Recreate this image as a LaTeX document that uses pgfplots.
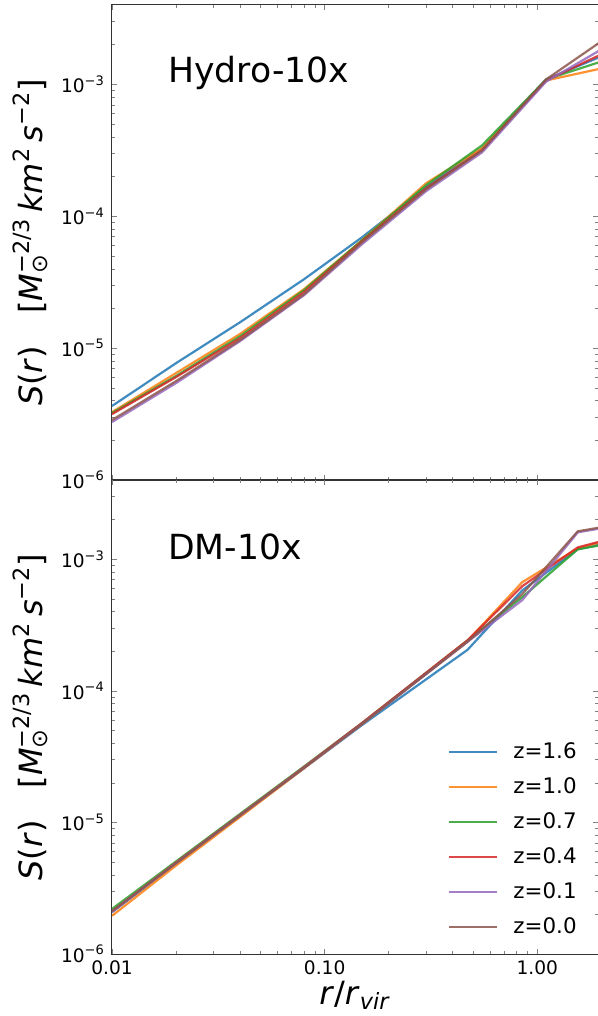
\documentclass[border=0pt]{standalone}
\usepackage{fontspec}
\setmainfont{DejaVu Sans}
\usepackage{pgfplots}
\pgfplotsset{compat=1.18}

\definecolor{c0}{HTML}{1F77B4}
\definecolor{c1}{HTML}{FF7F0E}
\definecolor{c2}{HTML}{2CA02C}
\definecolor{c3}{HTML}{D62728}
\definecolor{c4}{HTML}{9467BD}
\definecolor{c5}{HTML}{8C564B}

\newcommand{\supsub}[2]{\rlap{\textsubscript{#2}}\textsuperscript{#1}}
\newcommand{\slabel}{\textit{S}(\textit{r})\quad[\textit{M}\supsub{−2/3}{⊙}\,\textit{km}\textsuperscript{2}\,\textit{s}\textsuperscript{−2}]}

\pgfplotsset{
  every axis/.append style={
    scale only axis,
    width=243pt,
    xmin=0.01, xmax=1.93,
    ymin=1e-6, ymax=4e-3,
    axis line style={black!80, line width=0.5pt},
    tick align=inside,
    xtick pos=both, ytick pos=both,
    major tick length=2.6pt,
    minor tick length=1.4pt,
    xtick={0.01,0.1,1},
    minor xtick={0.02,0.03,0.04,0.05,0.06,0.07,0.08,0.09,0.2,0.3,0.4,0.5,0.6,0.7,0.8,0.9},
    ytick={1e-6,1e-5,1e-4,1e-3},
    yticklabels={10\textsuperscript{−6},10\textsuperscript{−5},10\textsuperscript{−4},10\textsuperscript{−3}},
    minor ytick={2e-6,3e-6,4e-6,5e-6,6e-6,7e-6,8e-6,9e-6,
                 2e-5,3e-5,4e-5,5e-5,6e-5,7e-5,8e-5,9e-5,
                 2e-4,3e-4,4e-4,5e-4,6e-4,7e-4,8e-4,9e-4,
                 2e-3,3e-3},
    tick label style={font=\fontsize{9.3}{11}\selectfont},
    ylabel style={font=\fontsize{16}{19}\selectfont, at={(axis description cs:-0.168,0.5)}, anchor=center},
  },
  every axis plot/.append style={line width=1.1pt, opacity=0.85},
}

\begin{document}
\begin{tikzpicture}
% upper panel
\begin{loglogaxis}[height=237.5pt, at={(0pt,237pt)}, anchor=south west,
    xticklabels={}, ylabel={\slabel}]
\addplot[c0] coordinates {(0.01,3.64e-6) (0.02,7.69e-6) (0.04,1.57e-5) (0.08,3.33e-5) (0.15,6.93e-5) (0.3,1.66e-4) (0.55,3.27e-4) (1.1,1.09e-3) (2.0,1.63e-3)};
\addplot[c1] coordinates {(0.01,3.27e-6) (0.02,6.47e-6) (0.04,1.28e-5) (0.08,2.80e-5) (0.15,6.58e-5) (0.3,1.78e-4) (0.55,3.27e-4) (1.1,1.07e-3) (2.0,1.32e-3)};
\addplot[c2] coordinates {(0.01,3.22e-6) (0.02,6.14e-6) (0.04,1.23e-5) (0.08,2.75e-5) (0.15,6.58e-5) (0.3,1.72e-4) (0.55,3.45e-4) (1.1,1.09e-3) (2.0,1.49e-3)};
\addplot[c3] coordinates {(0.01,3.16e-6) (0.02,6.03e-6) (0.04,1.19e-5) (0.08,2.66e-5) (0.15,6.47e-5) (0.3,1.63e-4) (0.55,3.16e-4) (1.1,1.07e-3) (2.0,1.69e-3)};
\addplot[c4] coordinates {(0.01,2.75e-6) (0.02,5.43e-6) (0.04,1.13e-5) (0.08,2.52e-5) (0.15,6.14e-5) (0.3,1.55e-4) (0.55,3.05e-4) (1.1,1.05e-3) (2.0,1.84e-3)};
\addplot[c5] coordinates {(0.01,2.85e-6) (0.02,5.62e-6) (0.04,1.15e-5) (0.08,2.56e-5) (0.15,6.35e-5) (0.3,1.60e-4) (0.55,3.16e-4) (1.1,1.09e-3) (2.0,2.12e-3)};
\node[anchor=base west, font=\fontsize{17.3}{20}\selectfont, inner sep=0pt] at (axis description cs:0.115,0.836) {Hydro-10x};
\end{loglogaxis}
% lower panel
\begin{loglogaxis}[height=237pt, at={(0pt,0pt)}, anchor=south west,
    ylabel={\slabel},
    xticklabels={0.01,0.10,1.00},
    xlabel={\textit{r}/\textit{r}\textsubscript{\textit{vir}}},
    xlabel style={font=\fontsize{16}{19}\selectfont, at={(axis description cs:0.5,0)}, anchor=center, yshift=-20.5pt},
    legend cell align=left,
    legend image code/.code={\draw[#1] (0pt,0pt) -- (24pt,0pt);},
    legend style={draw=none, fill=none, at={(axis description cs:0.691,0.455)}, anchor=north west,
        font=\fontsize{10.7}{12}\selectfont, row sep=4.05pt, inner sep=0pt,
        /tikz/every odd column/.append style={column sep=5.5pt}},
    ]
\addplot[c0] coordinates {(0.01,2.08e-6) (0.02,4.85e-6) (0.04,1.12e-5) (0.08,2.58e-5) (0.15,5.5e-5) (0.47,2.05e-4) (0.85,5.8e-4) (1.55,1.19e-3) (2.0,1.30e-3)};
\addlegendentry{z=1.6}
\addplot[c1] coordinates {(0.01,1.95e-6) (0.02,4.7e-6) (0.04,1.1e-5) (0.08,2.58e-5) (0.15,5.6e-5) (0.47,2.4e-4) (0.85,6.7e-4) (1.55,1.21e-3) (2.0,1.35e-3)};
\addlegendentry{z=1.0}
\addplot[c2] coordinates {(0.01,2.2e-6) (0.02,5.05e-6) (0.04,1.16e-5) (0.08,2.66e-5) (0.15,5.7e-5) (0.47,2.42e-4) (0.85,5.15e-4) (1.55,1.19e-3) (2.0,1.28e-3)};
\addlegendentry{z=0.7}
\addplot[c3] coordinates {(0.01,2.1e-6) (0.02,4.95e-6) (0.04,1.14e-5) (0.08,2.63e-5) (0.15,5.7e-5) (0.47,2.42e-4) (0.85,6.24e-4) (1.55,1.23e-3) (2.0,1.37e-3)};
\addlegendentry{z=0.4}
\addplot[c4] coordinates {(0.01,2.1e-6) (0.02,4.9e-6) (0.04,1.13e-5) (0.08,2.6e-5) (0.15,5.6e-5) (0.47,2.36e-4) (0.85,4.89e-4) (1.55,1.60e-3) (2.0,1.72e-3)};
\addlegendentry{z=0.1}
\addplot[c5] coordinates {(0.01,2.12e-6) (0.02,4.9e-6) (0.04,1.13e-5) (0.08,2.6e-5) (0.15,5.6e-5) (0.47,2.36e-4) (0.85,5.43e-4) (1.55,1.63e-3) (2.0,1.75e-3)};
\addlegendentry{z=0.0}
\node[anchor=base west, font=\fontsize{17.3}{20}\selectfont, inner sep=0pt] at (axis description cs:0.115,0.833) {DM-10x};
\end{loglogaxis}
\pgfresetboundingbox
\path (-56pt,-31pt) rectangle (243pt,477pt);
\end{tikzpicture}
\end{document}
